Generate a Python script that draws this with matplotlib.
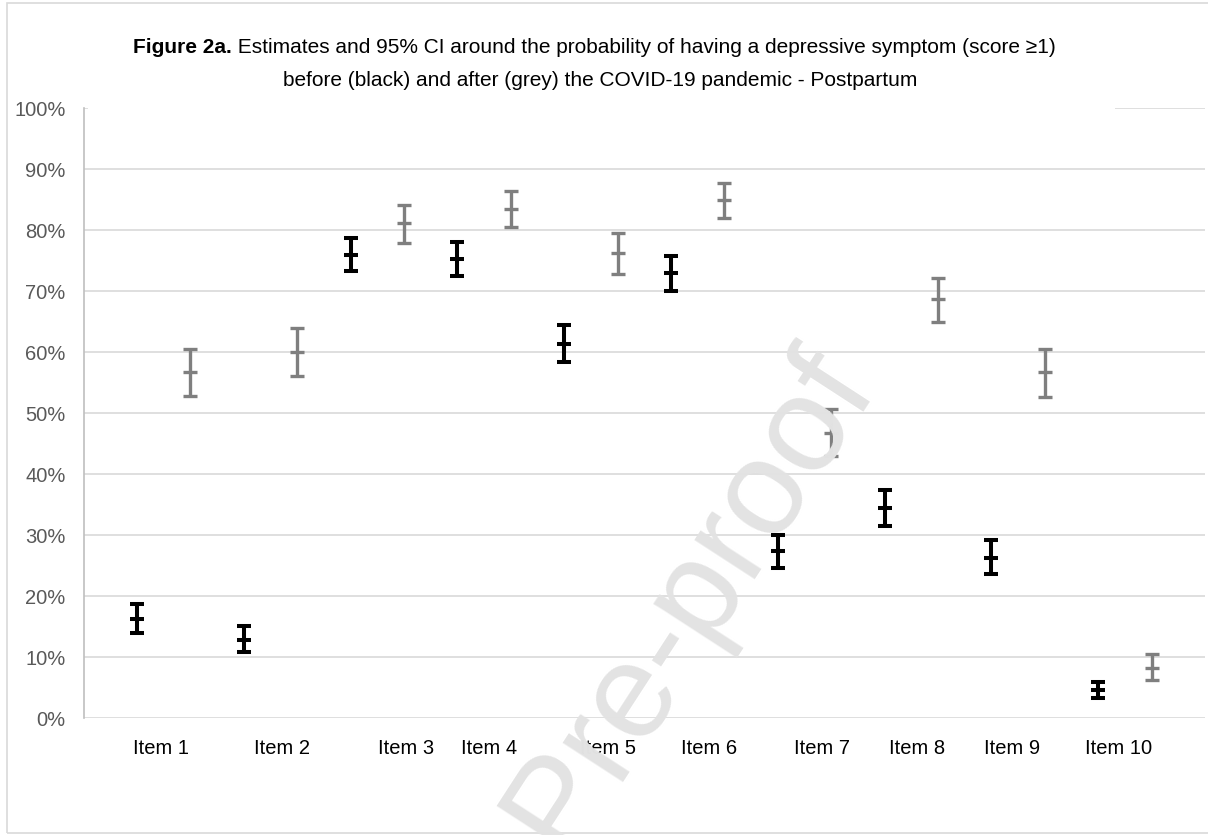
import numpy as np
import matplotlib
matplotlib.use("Agg")
import matplotlib.pyplot as plt
from matplotlib.patches import Rectangle

plt.rcParams['font.family'] = ['Liberation Sans', 'DejaVu Sans']

# data (percent)
items = ["Item 1", "Item 2", "Item 3", "Item 4", "Item 5",
         "Item 6", "Item 7", "Item 8", "Item 9", "Item 10"]
before_est = [16.3, 12.9, 76.0, 75.3, 61.4, 73.0, 27.4, 34.4, 26.3, 4.7]
before_lo = [14.0, 10.9, 73.3, 72.5, 58.4, 70.1, 24.7, 31.5, 23.7, 3.3]
before_hi = [18.8, 15.2, 78.7, 78.1, 64.5, 75.8, 30.1, 37.5, 29.2, 6.0]
after_est = [56.8, 60.0, 81.2, 83.5, 76.2, 84.9, 46.8, 68.7, 56.7, 8.2]
after_lo = [52.9, 56.1, 77.9, 80.6, 72.8, 82.0, 43.0, 64.9, 52.7, 6.3]
after_hi = [60.6, 64.0, 84.1, 86.4, 79.5, 87.8, 50.7, 72.2, 60.6, 10.5]

# where the item labels sit on the x scale (scatter points are at 1..20)
label_x = [1.46, 3.72, 6.04, 7.60, 9.83, 11.72, 13.83, 15.60, 17.39, 19.39]

W, H = 1208, 835
fig = plt.figure(figsize=(W / 100, H / 100), dpi=100)
ax = fig.add_axes([83.5 / W, (H - 718.3) / H, (1205 - 83.5) / W, 610 / H])

xb = np.arange(1, 21, 2)
xa = np.arange(2, 21, 2)
be, bl, bh = np.array(before_est), np.array(before_lo), np.array(before_hi)
ae, al, ah = np.array(after_est), np.array(after_lo), np.array(after_hi)

ax.errorbar(xb, be, yerr=[be - bl, bh - be], fmt='_', color='black', ms=10.5, mew=2.9,
            elinewidth=2.9, capsize=5.3, capthick=2.9, zorder=3)
ax.errorbar(xa, ae, yerr=[ae - al, ah - ae], fmt='_', color='#7f7f7f', ms=10.5, mew=2.4,
            elinewidth=2.4, capsize=5.3, capthick=2.4, zorder=3)

ax.set_xlim(0, 21)
ax.set_ylim(0, 100)
ax.set_yticks(range(0, 101, 10))
ax.set_yticklabels([f"{v}%" for v in range(0, 101, 10)])
ax.set_xticks([])
ax.tick_params(axis='y', length=0, pad=13, labelsize=14.5, labelcolor='#595959')
ax.grid(axis='y', color='#d9d9d9', lw=1.2)
ax.set_axisbelow(True)
for s in ['top', 'right', 'bottom']:
    ax.spines[s].set_visible(False)
ax.spines['left'].set_color('#bfbfbf')
ax.spines['left'].set_linewidth(1.2)

for x, t in zip(label_x, items):
    ax.text(x, -5.85, t, ha='center', va='baseline', fontsize=14.5, color='black', clip_on=False)

# outer chart frame
fig.patches.append(Rectangle((7 / W, 2 / H), 1.2, (833 - 3) / H, transform=fig.transFigure,
                             fill=False, ec='#d9d9d9', lw=1.2, zorder=0))
# title box hides top gridline
fig.patches.append(Rectangle((88 / W, (H - 112) / H), (1115 - 88) / W, 95 / H,
                             transform=fig.transFigure, fc='white', ec='none', zorder=1))

# title, line 1 has a bold lead
t1b = fig.text(0, 1 - 53 / H, "Figure 2a.", fontsize=15, fontweight='bold', ha='left', va='baseline', zorder=5)
t1r = fig.text(0, 1 - 53 / H, " Estimates and 95% CI around the probability of having a depressive symptom (score \u22651)",
               fontsize=15, ha='left', va='baseline', zorder=5)
fig.text(600 / W, 1 - 86 / H, "before (black) and after (grey) the COVID-19 pandemic - Postpartum",
         fontsize=15, ha='center', va='baseline', zorder=5)
fig.canvas.draw()
r = fig.canvas.get_renderer()
wb = t1b.get_window_extent(r).width
wr = t1r.get_window_extent(r).width
x0 = 594 - (wb + wr) / 2
t1b.set_x(x0 / W)
t1r.set_x((x0 + wb) / W)

# watermark
fig.text(878 / W, 1 - 390 / H, "Journal Pre-proof", fontsize=98, color='#e3e3e3',
         rotation=57, rotation_mode='anchor', ha='right', va='baseline', zorder=10)

fig.savefig("out.png", dpi=100)
